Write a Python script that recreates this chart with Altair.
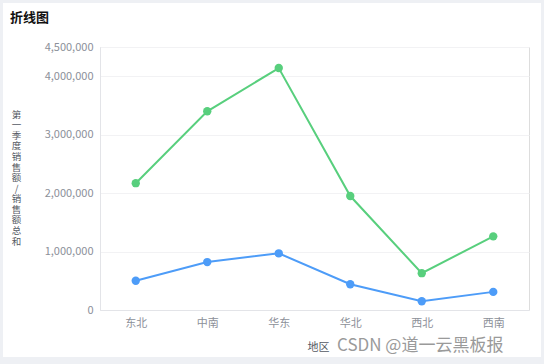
import altair as alt
import pandas as pd

regions = ["东北", "中南", "华东", "华北", "西北", "西南"]
q1_sales = [500000, 820000, 970000, 440000, 150000, 310000]
total_sales = [2170000, 3400000, 4140000, 1950000, 630000, 1260000]
series_names = ["第一季度销售额", "销售额总和"]
y_ticks = [0, 1000000, 2000000, 3000000, 4000000, 4500000]

rows = []
for r, a, b in zip(regions, q1_sales, total_sales):
    rows.append({"地区": r, "系列": series_names[0], "值": a})
    rows.append({"地区": r, "系列": series_names[1], "值": b})
df = pd.DataFrame(rows)

W, H = 429, 263

color = alt.Color("系列:N", scale=alt.Scale(domain=series_names, range=["#4d9cf8", "#58cf7d"]), legend=None)

x_enc = alt.X(
    "地区:N",
    sort=regions,
    axis=alt.Axis(
        title="地区",
        titleX=218,
        titleY=37,
        titleAlign="center",
        titleBaseline="middle",
        titleFontSize=11,
        titleFontWeight="normal",
        titleColor="#555a63",
        labelAngle=0,
        labelColor="#8c9099",
        labelFontSize=11,
        labelPadding=7,
        ticks=False,
        domainColor="#e3e4e8",
        grid=False,
    ),
)
y_enc = alt.Y(
    "值:Q",
    scale=alt.Scale(domain=[0, 4500000], nice=False),
    axis=alt.Axis(
        values=y_ticks,
        format=",d",
        title=list("第一季度销售额/销售额总和"),
        titleAngle=0,
        titleX=-84,
        titleY=62,
        titleAlign="center",
        titleBaseline="top",
        titleFontSize=9.5,
        titleLineHeight=10.6,
        titleFontWeight="normal",
        titleColor="#555a63",
        labelColor="#8c9099",
        labelFontSize=11,
        labelPadding=7,
        ticks=False,
        domainColor="#e3e4e8",
        gridColor="#f2f2f4",
    ),
)

base = alt.Chart(df).encode(x=x_enc, y=y_enc, color=color)
lines = base.mark_line(strokeWidth=2)
points = base.mark_point(filled=True, size=70, opacity=1)

one = alt.Data(values=[{"a": 1}])
frame = alt.Chart(one).mark_rect(fill=None, stroke="#eef0f4", strokeWidth=8).encode(
    x=alt.value(-101), x2=alt.value(445), y=alt.value(-48), y2=alt.value(314)
)
title = alt.Chart(one).mark_text(
    text="折线图", fontSize=13, fontWeight="bold", color="#111111", align="left", baseline="middle"
).encode(x=alt.value(-90), y=alt.value(-29))
watermark = alt.Chart(one).mark_text(
    text="CSDN @道一云黑板报", fontSize=17, color="#9a9a9a", align="left", baseline="middle"
).encode(x=alt.value(237), y=alt.value(299))

chart = (
    alt.layer(lines, points, frame, title, watermark)
    .properties(
        width=W,
        height=H,
        autosize=alt.AutoSizeParams(type="none"),
        padding={"left": 100, "top": 47, "right": 15, "bottom": 54},
        background="#ffffff",
    )
    .configure_view(stroke=None)
    .configure(font="Noto Sans CJK SC")
)

chart.save("out.html", embed_options={"renderer": "svg", "actions": False})
